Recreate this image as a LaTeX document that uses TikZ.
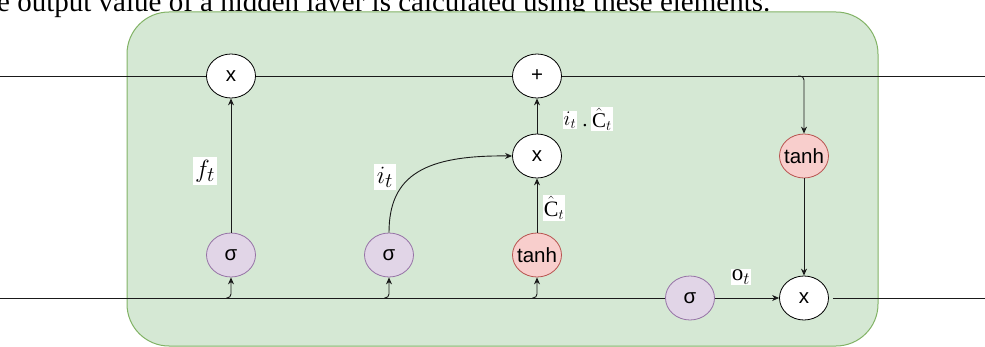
\documentclass[tikz,border=0pt]{standalone}
\usepackage{fontspec}
\setmainfont{Liberation Serif}
\newfontfamily\nodefont{Liberation Sans}
\usetikzlibrary{shapes.geometric,arrows.meta,calc}
\definecolor{cellfill}{HTML}{D5E8D4}
\definecolor{cellline}{HTML}{82B366}
\definecolor{sigfill}{HTML}{E1D5E7}
\definecolor{sigline}{HTML}{9673A6}
\definecolor{thfill}{HTML}{F8CECC}
\definecolor{thline}{HTML}{B85450}
\definecolor{wire}{HTML}{1A1A1A}
\tikzset{
  gate/.style={ellipse,draw=black,fill=white,line width=0.8pt,minimum width=49pt,minimum height=44pt,inner sep=0pt,
    font=\nodefont\fontsize{20.5}{20.5}\selectfont},
  siggate/.style={gate,draw=sigline,fill=sigfill},
  thgate/.style={gate,draw=thline,fill=thfill},
  wireline/.style={draw=wire,line width=0.9pt},
  arr/.style={wireline,-{Stealth[length=7pt,width=6pt]}},
  lab/.style={fill=white,inner sep=2pt},
}
\newcommand{\gtxt}[1]{\makebox[0pt]{#1}}
\begin{document}
\begin{tikzpicture}[x=1pt,y=-1pt]
\useasboundingbox (0,0) rectangle (985,347);
\clip (0,0) rectangle (985,347);
% caption text (cut off at top/left)
\node[anchor=base west,inner sep=0pt,font=\fontsize{29}{29}\selectfont] (cap) at (-3,12) {e output value of a hidden layer is calculated using these elements.};
% cell
\draw[draw=cellline,fill=cellfill,line width=1pt,rounded corners=42pt] (127,12) rectangle (878,346);
% gates
\node[gate] (x1) at (231,76) {\gtxt{x}};
\node[gate] (plus) at (537,76) {\gtxt{+}};
\node[gate] (x2) at (537,156) {\gtxt{x}};
\node[thgate] (t1) at (804,156) {\gtxt{tanh}};
\node[siggate] (s1) at (231,255) {\gtxt{σ}};
\node[siggate] (s2) at (389,255) {\gtxt{σ}};
\node[thgate] (t2) at (537,255) {\gtxt{tanh}};
\node[siggate] (s3) at (690,298) {\gtxt{σ}};
\node[gate] (x3) at (804,298) {\gtxt{x}};
% free ends
\coordinate (cin) at (0,76);
\coordinate (cout) at (985,76);
\coordinate (hin) at (0,298);
\coordinate (hout) at (985,298);
\coordinate (b1) at (226,298);
\coordinate (b2) at (384,298);
\coordinate (b3) at (532,298);
\coordinate (bt) at (798,76);
% cell state line
\draw[wireline] (cin) -- (x1.west);
\draw[wireline] (x1.east) -- (plus.west);
\draw[wireline] (plus.east) -- (cout);
% hidden line
\draw[wireline] (hin) -- (s3.west);
\draw[wireline,shorten <=4pt] (x3.east) -- (hout);
% branches
\draw[arr,rounded corners=4pt] (b1) -| (s1.south);
\draw[arr,rounded corners=4pt] (b2) -| (s2.south);
\draw[arr,rounded corners=4pt] (b3) -| (t2.south);
\draw[arr,rounded corners=4pt] (bt) -| (t1.north);
% gate connections
\draw[arr] (s1.north) -- (x1.south);
\draw[arr] (s2.north) .. controls (389,175) and (425,155) .. (x2.west);
\draw[arr] (t2.north) -- (x2.south);
\draw[arr] (x2.north) -- (plus.south);
\draw[arr] (t1.south) -- (x3.north);
\draw[arr] (s3.east) -- (x3.west);
% labels
\node[lab,font=\fontsize{28}{28}\selectfont,inner sep=2.5pt] (lf) at (205,171) {$f_t$};
\node[lab,font=\fontsize{28}{28}\selectfont,inner sep=2.5pt] (li) at (385,177) {$i_t$};
\node[lab,font=\fontsize{21}{21}\selectfont,inner sep=1pt] (lic1) at (570,120) {$i_t$};
\node[anchor=base,inner sep=0pt,font=\fontsize{21}{21}\selectfont] (ldot) at (585,127) {.};
\node[lab,font=\fontsize{21}{21}\selectfont,inner sep=1pt] (lic2) at (602,119) {$\hat{\mathrm{C}}_t$};
\node[lab,font=\fontsize{22}{22}\selectfont,inner sep=1pt] (lc) at (554,208) {$\hat{\mathrm{C}}_t$};
\node[lab,font=\fontsize{23}{23}\selectfont,inner sep=1pt] (lo) at (741,277) {$\mathrm{o}_t$};
\end{tikzpicture}
\end{document}
